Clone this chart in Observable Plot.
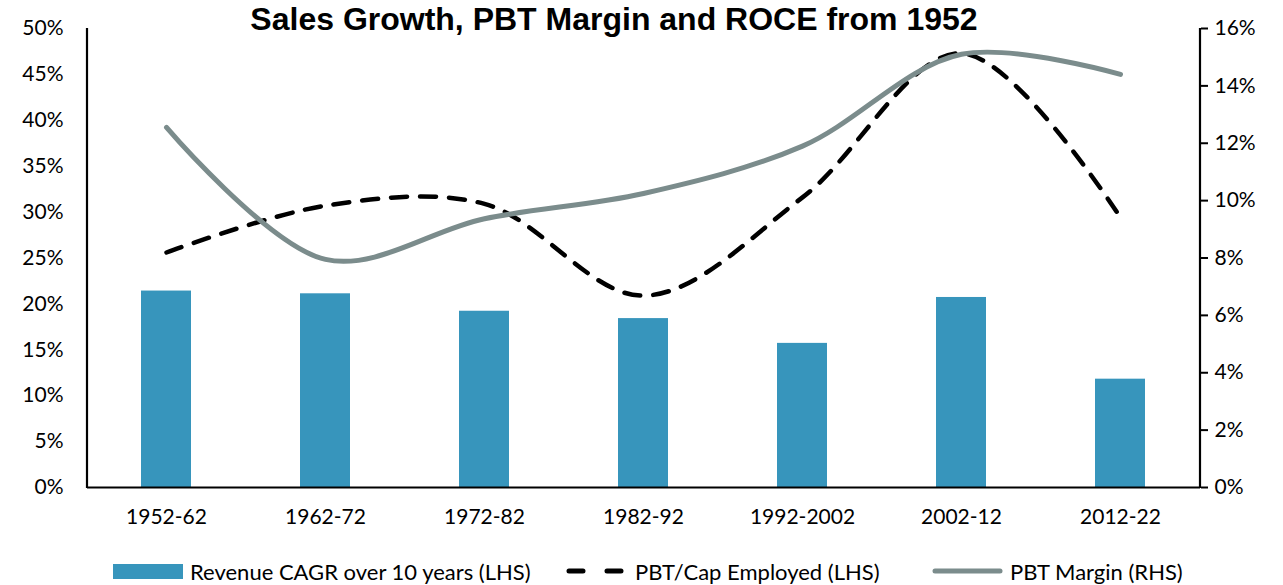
<!DOCTYPE html>
<html>
<head>
<meta charset="utf-8">
<script src="https://cdn.jsdelivr.net/npm/d3@7"></script>
<script src="https://cdn.jsdelivr.net/npm/@observablehq/plot@0.6"></script>
<style>
  body { margin: 0; background: #fff; width: 1283px; height: 585px; overflow: hidden; position: relative; }
  #title { position: absolute; top: 1px; left: 0; width: 1228px; text-align: center;
    font-family: "Liberation Sans", Arial, sans-serif; font-weight: bold; font-size: 32px; color: #000; z-index: 2; }
  #chart svg { display: block; }
  #legend { position: relative; height: 45px; font-family: Lato, sans-serif; font-size: 22px; color: #000; }
  .item { position: absolute; top: 18px; display: flex; align-items: center; height: 26px; }
  .item svg { margin-right: 7px; }
</style>
</head>
<body>
<div id="title">Sales Growth, PBT Margin and ROCE from 1952</div>
<div id="chart"></div>
<div id="legend"></div>
<script>
const categories = ["1952-62", "1962-72", "1972-82", "1982-92", "1992-2002", "2002-12", "2012-22"];
const revenueCagr = [21.4, 21.1, 19.2, 18.4, 15.7, 20.7, 11.8];      // LHS, %
const pbtCapEmployed = [25.6, 30.7, 30.9, 20.9, 31.6, 47.3, 29.4];   // LHS, %
const pbtMargin = [12.55, 7.95, 9.37, 10.25, 11.9, 15.1, 14.4];      // RHS, %
const leftTicks = [0, 5, 10, 15, 20, 25, 30, 35, 40, 45, 50];
const rightTicks = [0, 2, 4, 6, 8, 10, 12, 14, 16];
const seriesNames = ["Revenue CAGR over 10 years (LHS)", "PBT/Cap Employed (LHS)", "PBT Margin (RHS)"];

const LMAX = 50, RMAX = 16;
const toLeft = v => v * LMAX / RMAX;

const data = categories.map((c, i) => ({cat: c, rev: revenueCagr[i], cap: pbtCapEmployed[i], margin: pbtMargin[i]}));

const W = 1283, H = 540, ML = 87, MR = 83, MT = 28, MB = 53;
const barColor = "#3795BC", greyColor = "#7B8C8C";

const plot = Plot.plot({
  width: W, height: H,
  marginLeft: ML, marginRight: MR, marginTop: MT, marginBottom: MB,
  style: {fontFamily: "Lato, sans-serif", fontSize: "21px", color: "#000", background: "transparent"},
  x: {domain: categories, paddingInner: 0.685, paddingOuter: 0.3425, label: null},
  y: {domain: [0, LMAX], label: null},
  marks: [
    Plot.barY(data, {x: "cat", y: "rev", fill: barColor}),
    Plot.line(data, {x: "cat", y: "cap", stroke: "#000", strokeWidth: 4.5, strokeDasharray: "16,13", strokeLinecap: "round", curve: "catmull-rom"}),
    Plot.line(data, {x: "cat", y: d => toLeft(d.margin), stroke: greyColor, strokeWidth: 5, strokeLinecap: "round", curve: "catmull-rom"}),
    Plot.ruleY([0], {stroke: "#000", strokeWidth: 2}),
    Plot.axisX({tickSize: 0, tickPadding: 22, label: null}),
    Plot.axisY(leftTicks, {anchor: "left", tickSize: 0, tickPadding: 24, tickFormat: d => d + "%", label: null}),
    Plot.axisY(rightTicks.map(toLeft), {anchor: "right", tickSize: 7, tickPadding: 7, strokeWidth: 2, tickFormat: d => Math.round(d * RMAX / LMAX) + "%", label: null})
  ]
});

// frame side lines (axis spines), from the plot's own scale ranges
const svg = d3.select(plot);
const yr = plot.scale("y").range;
[ML, W - MR].forEach(xp => {
  svg.append("line").attr("x1", xp).attr("x2", xp).attr("y1", yr[0] + 1).attr("y2", yr[1])
    .attr("stroke", "#000").attr("stroke-width", 2.2);
});
document.getElementById("chart").appendChild(plot);

// legend
const legend = d3.select("#legend");
const items = [
  {left: 113, swatch: s => s.append("rect").attr("x", 0).attr("y", 6).attr("width", 70).attr("height", 15).attr("fill", barColor), w: 70},
  {left: 566, swatch: s => s.append("line").attr("x1", 3).attr("x2", 57).attr("y1", 13).attr("y2", 13).attr("stroke", "#000").attr("stroke-width", 5).attr("stroke-linecap", "round").attr("stroke-dasharray", "14,24"), w: 62},
  {left: 932, swatch: s => s.append("line").attr("x1", 3).attr("x2", 68).attr("y1", 13).attr("y2", 13).attr("stroke", greyColor).attr("stroke-width", 5).attr("stroke-linecap", "round"), w: 71}
];
items.forEach((it, i) => {
  const d = legend.append("div").attr("class", "item").style("left", it.left + "px");
  const s = d.append("svg").attr("width", it.w).attr("height", 26);
  it.swatch(s);
  d.append("span").text(seriesNames[i]);
});
</script>
</body>
</html>
